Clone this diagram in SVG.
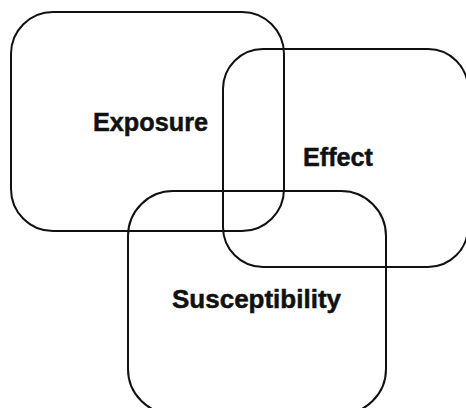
<svg xmlns="http://www.w3.org/2000/svg" width="466" height="408" viewBox="0 0 466 408">
<style>
.box{fill:none;stroke:#111;stroke-width:2}
.lbl{font-family:"Liberation Sans",Arial,Helvetica,sans-serif;font-weight:bold;font-size:26px;fill:#111;stroke:#111;stroke-width:0.5}
</style>
<rect width="466" height="408" fill="#fff"/>
<g id="exposure">
<rect class="box" x="11" y="12" width="273" height="219" rx="42" ry="42"/>
<text class="lbl" x="93" y="131" textLength="115" lengthAdjust="spacingAndGlyphs">Exposure</text>
</g>
<g id="effect">
<rect class="box" x="223" y="49" width="245" height="218" rx="40" ry="40"/>
<text class="lbl" x="303" y="166" textLength="70" lengthAdjust="spacingAndGlyphs">Effect</text>
</g>
<g id="susceptibility">
<rect class="box" x="128" y="191" width="258" height="223" rx="45" ry="45"/>
<text class="lbl" x="172" y="308" textLength="169" lengthAdjust="spacingAndGlyphs">Susceptibility</text>
</g>
<g id="connectors"></g>
</svg>
